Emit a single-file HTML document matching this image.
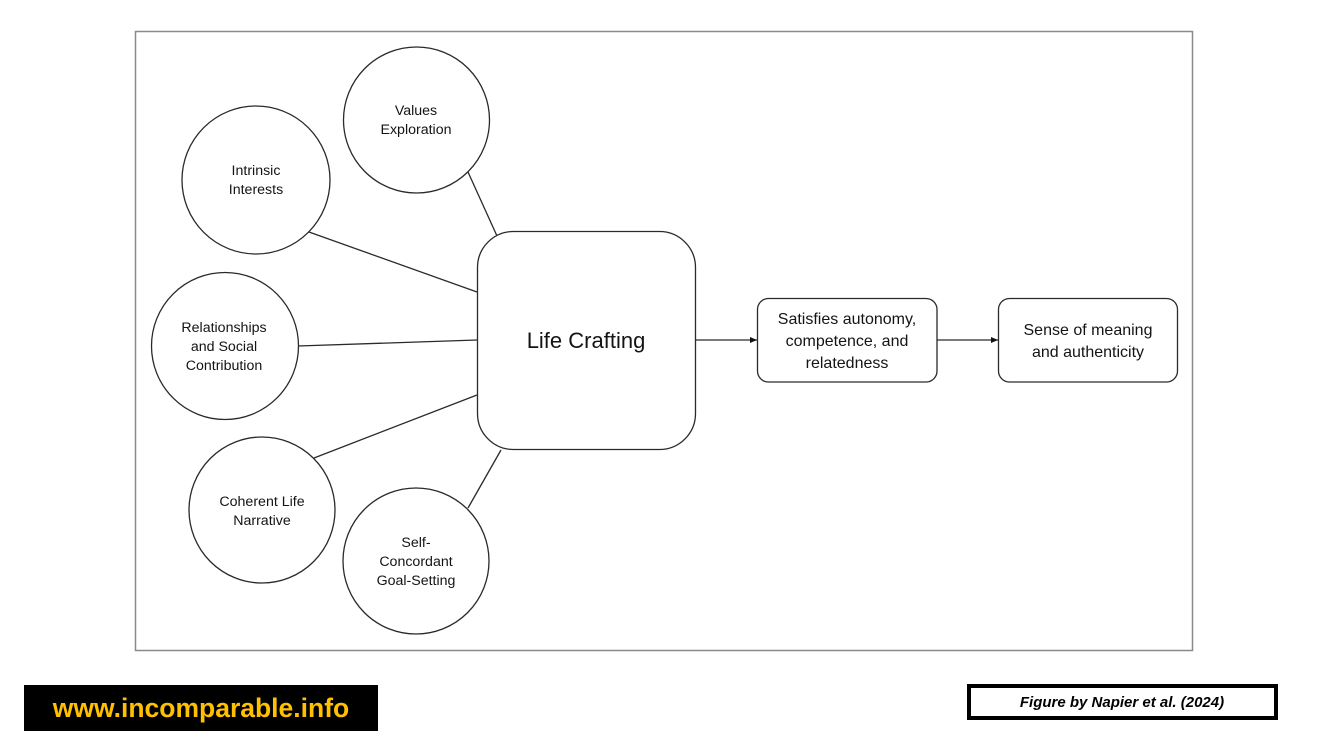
<!DOCTYPE html>
<html>
<head>
<meta charset="utf-8">
<style>
html,body{margin:0;padding:0;background:#fff;}
body{width:1323px;height:744px;overflow:hidden;position:relative;}
svg{position:absolute;left:0;top:0;}
.t{font-family:"Liberation Sans",sans-serif;fill:#141414;text-anchor:middle;}
</style>
</head>
<body>
<svg width="1323" height="744" viewBox="0 0 1323 744" xmlns="http://www.w3.org/2000/svg">
  <defs>
    <marker id="ah" markerWidth="8" markerHeight="8" refX="7" refY="4" orient="auto" markerUnits="userSpaceOnUse">
      <path d="M0,1 L7,4 L0,7 Z" fill="#111"/>
    </marker>
  </defs>
  <!-- outer frame -->
  <rect x="135.5" y="31.5" width="1057" height="619" fill="#fff" stroke="#8a8a8a" stroke-width="1.5"/>

  <!-- connector lines -->
  <g stroke="#2a2a2a" stroke-width="1.3" fill="none">
    <line x1="468" y1="172" x2="497" y2="236"/>
    <line x1="309" y1="232" x2="477" y2="292"/>
    <line x1="298" y1="346" x2="477" y2="340"/>
    <line x1="314" y1="458" x2="477" y2="395"/>
    <line x1="468" y1="508" x2="501" y2="450"/>
    <line x1="696" y1="340" x2="757" y2="340" marker-end="url(#ah)"/>
    <line x1="937" y1="340" x2="998" y2="340" marker-end="url(#ah)"/>
  </g>

  <!-- circles -->
  <g stroke="#2a2a2a" stroke-width="1.3" fill="#fff">
    <circle cx="416.5" cy="120" r="73"/>
    <circle cx="256" cy="180" r="74"/>
    <circle cx="225" cy="346" r="73.5"/>
    <circle cx="262" cy="510" r="73"/>
    <circle cx="416" cy="561" r="73"/>
  </g>

  <!-- boxes -->
  <g stroke="#2a2a2a" stroke-width="1.3" fill="#fff">
    <rect x="477.5" y="231.5" width="218" height="218" rx="36" ry="36"/>
    <rect x="757.5" y="298.5" width="179.5" height="83.5" rx="11" ry="11"/>
    <rect x="998.5" y="298.5" width="179" height="83.5" rx="11" ry="11"/>
  </g>

  <!-- circle labels -->
  <g class="t" font-size="14.2">
    <text x="416" y="115">Values</text>
    <text x="416" y="134">Exploration</text>
    <text x="256" y="175">Intrinsic</text>
    <text x="256" y="194">Interests</text>
    <text x="224" y="332">Relationships</text>
    <text x="224" y="351">and Social</text>
    <text x="224" y="370">Contribution</text>
    <text x="262" y="506">Coherent Life</text>
    <text x="262" y="525">Narrative</text>
    <text x="416" y="547">Self-</text>
    <text x="416" y="566">Concordant</text>
    <text x="416" y="585">Goal-Setting</text>
  </g>

  <text class="t" x="586" y="348" font-size="22">Life Crafting</text>

  <g class="t" font-size="16">
    <text x="847" y="324">Satisfies autonomy,</text>
    <text x="847" y="346">competence, and</text>
    <text x="847" y="368">relatedness</text>
    <text x="1088" y="335">Sense of meaning</text>
    <text x="1088" y="357">and authenticity</text>
  </g>

  <!-- footer left -->
  <rect x="24" y="685" width="354" height="46" fill="#000"/>
  <text x="201" y="717" font-family="Liberation Sans, sans-serif" font-weight="bold" font-size="26.5" fill="#ffc000" text-anchor="middle">www.incomparable.info</text>

  <!-- footer right -->
  <rect x="969" y="686" width="307" height="32" fill="#fff" stroke="#000" stroke-width="4"/>
  <text x="1122" y="707" font-family="Liberation Sans, sans-serif" font-weight="bold" font-style="italic" font-size="15" fill="#000" text-anchor="middle">Figure by Napier et al. (2024)</text>
</svg>
</body>
</html>
